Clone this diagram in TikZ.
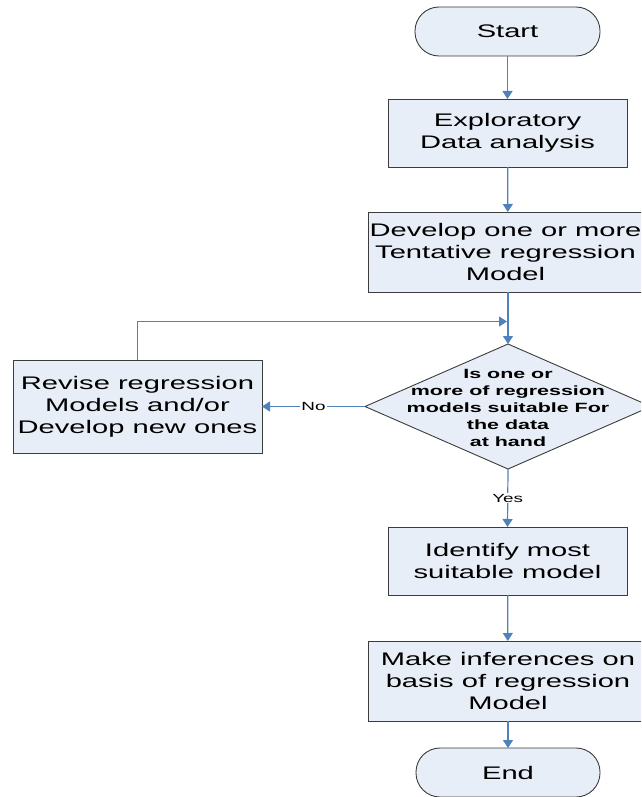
\documentclass[tikz,border=0pt]{standalone}
\usepackage{fontspec}
\setmainfont{Liberation Sans}[FakeStretch=1.6]
\usetikzlibrary{shapes.geometric,arrows.meta}

\definecolor{boxfill}{RGB}{232,238,247}
\definecolor{boxline}{RGB}{60,60,60}
\definecolor{flow}{RGB}{79,129,189}

\begin{document}
\begin{tikzpicture}[x=1pt,y=-1pt,
  every node/.style={inner sep=0pt, outer sep=0pt},
  boxtext/.style={font=\fontsize{18.2}{22}\selectfont, align=center},
  procbox/.style={draw=boxline, line width=0.9pt, fill=boxfill, rectangle, boxtext},
  termbox/.style={draw=boxline, line width=0.9pt, fill=boxfill, rectangle, rounded corners=24pt, boxtext},
  decbox/.style={draw=boxline, line width=0.9pt, fill=boxfill, diamond},
  dectext/.style={font=\fontsize{13.4}{17}\selectfont\bfseries, align=center},
  flowarrow/.style={draw=flow, line width=1.2pt, -{Triangle[length=8pt,width=10pt]}},
  flowlabel/.style={font=\fontsize{11.8}{14}\selectfont, fill=white, inner sep=1pt}
]
\useasboundingbox (0,0) rectangle (641,797);
\clip (0,0) rectangle (641,797);

% terminals and process steps
\node[termbox, minimum width=185pt, minimum height=49pt] (start) at (507.5,31.5) {Start};
\node[procbox, minimum width=239pt, minimum height=68pt] (explore) at (507.5,133) {Exploratory\\Data analysis};
\node[procbox, minimum width=280pt, minimum height=80pt] (develop) at (508,252) {};
\node[boxtext] (developtext) at (505.5,252) {Develop one or more\\Tentative regression\\Model};

% decision
\node[decbox, minimum width=286pt, minimum height=125pt] (decide) at (508,406.5) {};
\node[dectext] (decidetext) at (508,408) {Is one or\\more of regression\\models suitable For\\the data\\at hand};

\node[procbox, minimum width=249pt, minimum height=93pt] (revise) at (137.5,406.5) {Revise regression\\Models and/or\\Develop new ones};

\node[procbox, minimum width=239pt, minimum height=68pt] (identify) at (507.5,561) {Identify most\\suitable model};
\node[procbox, minimum width=280pt, minimum height=80pt] (infer) at (508,681) {Make inferences on\\basis of regression\\Model};
\node[termbox, minimum width=184pt, minimum height=49pt] (finish) at (508,772.5) {End};

% junction where the loop rejoins the main flow
\coordinate (merge) at (508,321.5);

% connectors
\draw[flowarrow] (start) -- (explore);
\draw[flowarrow] (explore) -- (develop);
\draw[flowarrow] (develop) -- (decide);
\draw[flowarrow, shorten >=1pt] (revise.north) |- (merge);
\draw[flowarrow] (decide.west) -- node[flowlabel, pos=0.5] (nolabel) {No} (revise.east);
\draw[flowarrow] (decide.south) -- node[flowlabel, pos=0.5] (yeslabel) {Yes} (identify.north);
\draw[flowarrow] (identify) -- (infer);
\draw[flowarrow] (infer) -- (finish);
\end{tikzpicture}
\end{document}
